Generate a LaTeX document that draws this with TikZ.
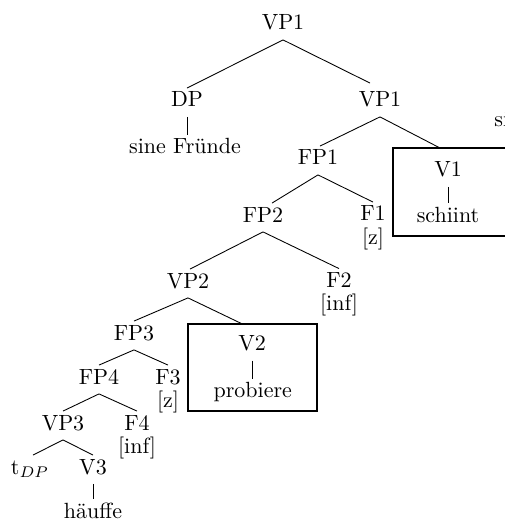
\documentclass[tikz,border=0pt]{standalone}
\usetikzlibrary{calc}
\begin{document}
\begin{tikzpicture}[x=0.4545pt,y=-0.4545pt,
  lab/.style={anchor=base,inner xsep=0pt,inner ysep=1.6pt,text height=7pt,text depth=2.9pt,outer sep=0pt},
  feat/.style={anchor=base,inner sep=0pt},
  hbox/.style={draw,line width=1.2pt,outer sep=0pt,inner sep=0pt},
  edge/.style={line width=0.4pt}]
\useasboundingbox (0,0) rectangle (505,522);
% boxes
\node[hbox,minimum width=53.6pt,minimum height=40pt] (box1) at (452,192) {};
\node[hbox,minimum width=58.6pt,minimum height=39.5pt] (box2) at (252.5,367.5) {};
% nodes
\node[lab] (VP1t) at (283,30) {VP1};
\node[lab] (DP) at (187,107) {DP};
\node[lab] (VP1b) at (380,107) {VP1};
\node[lab] (sine) at (185,153.5) {sine Fründe};
\node[feat,anchor=base west] (si) at (494,127) {si};
\node[lab] (FP1) at (318,165) {FP1};
\node[lab] (V1) at (448,177) {V1};
\node[lab] (schiint) at (448,222) {schiint};
\node[lab] (FP2) at (263,222) {FP2};
\node[lab] (F1) at (373,221) {F1};
\node[feat] (z1) at (373,244.5) {[z]};
\node[lab] (VP2) at (188,288) {VP2};
\node[lab] (F2) at (339,287.5) {F2};
\node[feat] (inf2) at (339,310.5) {[inf]};
\node[lab] (V2) at (252,350.7) {V2};
\node[lab] (probiere) at (252.8,397.5) {probiere};
\node[lab] (FP3) at (134,340) {FP3};
\node[lab] (FP4) at (99,384) {FP4};
\node[lab] (F3) at (168,384) {F3};
\node[feat] (z3) at (168,407.5) {[z]};
\node[lab] (VP3) at (63,430) {VP3};
\node[lab] (F4) at (137,430) {F4};
\node[feat] (inf4) at (137,453.5) {[inf]};
\node[lab] (tDP) at (30,474) {t$_{DP}$};
\node[lab] (V3) at (93,474) {V3};
\node[lab] (haeuffe) at (93,518) {häuffe};
% edges
\draw[edge] (VP1t.south) -- (DP.north);
\draw[edge] (VP1t.south) -- ($(VP1b.north)+(-10,-5)$);
\draw[edge] (DP.south) -- (DP.south |- sine.north);
\draw[edge] (VP1b.south) -- ($(FP1.north)+(2,0)$);
\draw[edge] (VP1b.south) -- ($(box1.north)+(-12,0)$);
\draw[edge] (V1.south) -- (V1.south |- schiint.north);
\draw[edge] (FP1.south) -- ($(FP2.north)+(9,0)$);
\draw[edge] (FP1.south) -- (F1.north);
\draw[edge] (FP2.south) -- ($(VP2.north)+(2,0)$);
\draw[edge] (FP2.south) -- (F2.north);
\draw[edge] (VP2.south) -- (FP3.north);
\draw[edge] (VP2.south) -- ($(box2.north)+(-10,0)$);
\draw[edge] (V2.south) -- (V2.south |- probiere.north);
\draw[edge] (FP3.south) -- (FP4.north);
\draw[edge] (FP3.south) -- (F3.north);
\draw[edge] (FP4.south) -- (VP3.north);
\draw[edge] (FP4.south) -- (F4.north);
\draw[edge] (VP3.south) -- ($(tDP.north)+(3,0)$);
\draw[edge] (VP3.south) -- (V3.north);
\draw[edge] (V3.south) -- (V3.south |- haeuffe.north);
\end{tikzpicture}
\end{document}
